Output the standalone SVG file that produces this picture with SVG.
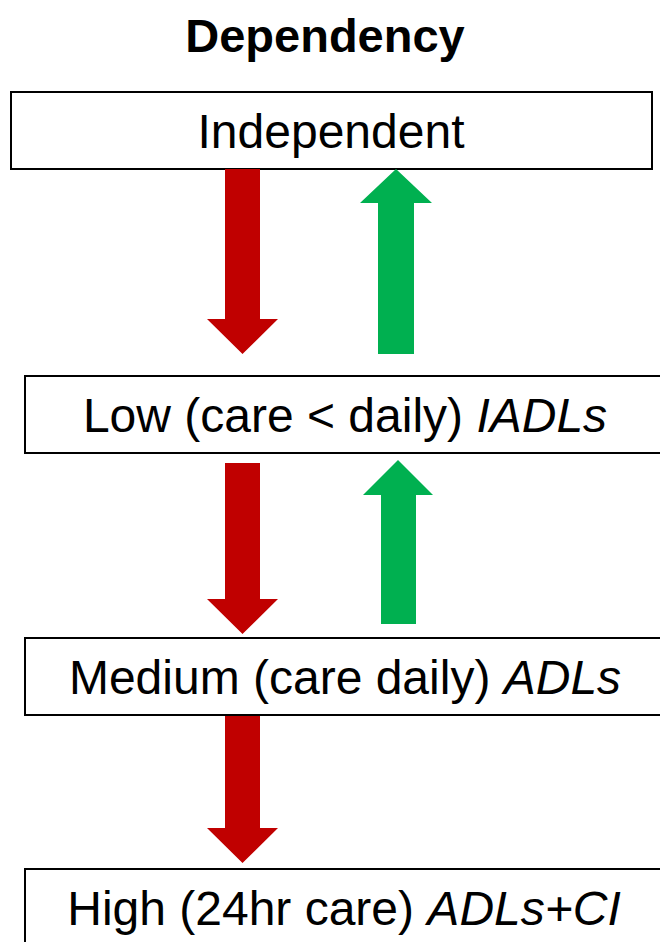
<svg xmlns="http://www.w3.org/2000/svg" width="660" height="942" viewBox="0 0 660 942">
  <style>
    .box { fill: #ffffff; stroke: #000000; stroke-width: 2; }
    .lbl { font-family: "Liberation Sans", Arial, sans-serif; font-size: 48px; fill: #000000; text-anchor: middle; }
    .title { font-family: "Liberation Sans", Arial, sans-serif; font-size: 47px; font-weight: bold; fill: #000000; text-anchor: middle; }
    .down { fill: #C00000; }
    .up { fill: #00B050; }
  </style>
  <rect width="660" height="942" fill="#ffffff"/>

  <text class="title" x="325" y="52">Dependency</text>

  <g id="independent">
    <rect class="box" x="11" y="92" width="641" height="77"/>
    <text class="lbl" x="331" y="148">Independent</text>
  </g>

  <g id="low">
    <rect class="box" x="25" y="376" width="645" height="77"/>
    <text class="lbl" x="345" y="432">Low (care &lt; daily) <tspan font-style="italic">IADLs</tspan></text>
  </g>

  <g id="medium">
    <rect class="box" x="25" y="638" width="645" height="77"/>
    <text class="lbl" x="345" y="694">Medium (care daily) <tspan font-style="italic">ADLs</tspan></text>
  </g>

  <g id="high">
    <rect class="box" x="25" y="869" width="645" height="77"/>
    <text class="lbl" x="344" y="925">High (24hr care) <tspan font-style="italic">ADLs+CI</tspan></text>
  </g>

  <g id="connectors">
    <!-- block arrows: red = increasing dependency, green = recovery -->
    <polygon class="down" points="225,169 260,169 260,319 278,319 242.5,354 207,319 225,319"/>
    <polygon class="up" points="396,169 432,203 414,203 414,354 378,354 378,203 360,203"/>
    <polygon class="down" points="225,463 260,463 260,599 278,599 242.5,634 207,599 225,599"/>
    <polygon class="up" points="398,460 433,495 416,495 416,624 381,624 381,495 363,495"/>
    <polygon class="down" points="225,716 260,716 260,828 278,828 242.5,863 207,828 225,828"/>
  </g>
</svg>
